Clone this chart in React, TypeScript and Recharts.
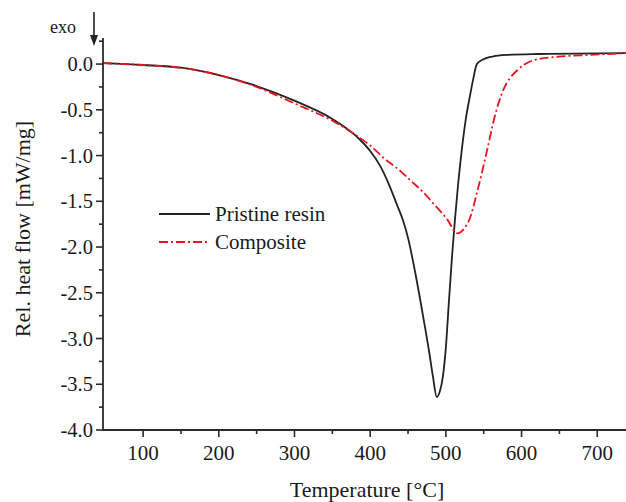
import React from "react"
import { LineChart, Line, XAxis, YAxis } from "recharts"

// temperatures [°C] and heat flow [mW/mg]
const pristineT = [47, 100, 150, 200, 250, 300, 350, 387, 400, 413, 425, 435, 443, 450, 460, 470, 478, 483, 488, 492, 496, 500, 504, 508, 512, 516, 521, 526, 532, 536, 541, 549, 560, 581, 624, 740]
const pristineV = [0.01, -0.01, -0.04, -0.12, -0.24, -0.4, -0.6, -0.83, -0.95, -1.11, -1.32, -1.53, -1.7, -1.9, -2.3, -2.76, -3.15, -3.42, -3.64, -3.58, -3.42, -3.1, -2.6, -2.12, -1.7, -1.33, -0.94, -0.62, -0.34, -0.17, 0.0, 0.05, 0.08, 0.1, 0.11, 0.12]

const compositeT = [47, 100, 150, 200, 250, 300, 350, 387, 400, 417, 440, 453, 470, 483, 502, 515, 524, 532, 541, 554, 565, 576, 585, 594, 615, 647, 690, 740]
const compositeV = [0.01, -0.01, -0.04, -0.12, -0.25, -0.43, -0.62, -0.81, -0.89, -1.02, -1.17, -1.27, -1.4, -1.52, -1.7, -1.85, -1.8, -1.68, -1.41, -0.96, -0.56, -0.28, -0.15, -0.07, 0.04, 0.08, 0.1, 0.12]

const xMajor = [100, 200, 300, 400, 500, 600, 700]
const xMinor = [150, 250, 350, 450, 550, 650]
const yMajor = [0, -0.5, -1, -1.5, -2, -2.5, -3, -3.5, -4]
const yMinor = [0.25, -0.25, -0.75, -1.25, -1.75, -2.25, -2.75, -3.25, -3.75]

const pristine = pristineT.map((t, i) => ({ t, v: pristineV[i] }))
const composite = compositeT.map((t, i) => ({ t, v: compositeV[i] }))

const FONT = "'Liberation Serif', 'DejaVu Serif', serif"
const AXIS = "#2a2a2a"
const RED = "#e8141e"

function XTick(props: any) {
  const { x, y, payload } = props
  const major = xMajor.includes(payload.value)
  return (
    <g>
      <line x1={x} x2={x} y1={y} y2={y + (major ? 7 : 4)} stroke={AXIS} strokeWidth={1.6} />
      {major && (
        <text x={x} y={y + 30} textAnchor="middle" fontFamily={FONT} fontSize={21} fill="#1a1a1a">
          {payload.value}
        </text>
      )}
    </g>
  )
}

function YTick(props: any) {
  const { x, y, payload } = props
  const major = yMajor.includes(payload.value)
  return (
    <g>
      <line x1={x - (major ? 7 : 4)} x2={x} y1={y} y2={y} stroke={AXIS} strokeWidth={1.6} />
      {major && (
        <text x={x - 10} y={y + 7} textAnchor="end" fontFamily={FONT} fontSize={20.5} fill="#1a1a1a">
          {payload.value.toFixed(1)}
        </text>
      )}
    </g>
  )
}

export default function App() {
  return (
    <div style={{ position: "absolute", left: 0, top: 0, width: 626, height: 502, background: "#fff" }}>
      <LineChart width={626} height={502} margin={{ top: 38, right: 0, bottom: 0, left: 0 }}>
        <XAxis
          type="number"
          dataKey="t"
          domain={[47, 738]}
          ticks={[...xMajor, ...xMinor].sort((a, b) => a - b)}
          interval={0}
          tick={<XTick />}
          tickLine={false}
          tickSize={0}
          tickMargin={0}
          height={72}
          axisLine={{ stroke: AXIS, strokeWidth: 1.8 }}
          allowDataOverflow
        />
        <YAxis
          type="number"
          dataKey="v"
          domain={[-4, 0.285]}
          ticks={[...yMajor, ...yMinor].sort((a, b) => a - b)}
          interval={0}
          tick={<YTick />}
          tickLine={false}
          tickSize={0}
          tickMargin={0}
          width={103}
          axisLine={{ stroke: AXIS, strokeWidth: 1.8 }}
          allowDataOverflow
        />
        <Line data={pristine} dataKey="v" type="monotone" stroke="#222" strokeWidth={1.8} dot={false} isAnimationActive={false} />
        <Line data={composite} dataKey="v" type="monotone" stroke={RED} strokeWidth={1.8} strokeDasharray="9 3 2 3" dot={false} isAnimationActive={false} />
      </LineChart>
      <svg width={626} height={502} style={{ position: "absolute", left: 0, top: 0, pointerEvents: "none" }}>
        <text x={50} y={33} fontFamily={FONT} fontSize={18} fill="#1a1a1a">exo</text>
        <line x1={94} x2={94} y1={12} y2={40} stroke="#222" strokeWidth={1.6} />
        <path d="M90,35 L94,46 L98,35 Z" fill="#222" />
        <text x={30} y={229} transform="rotate(-90 30 229)" textAnchor="middle" fontFamily={FONT} fontSize={22} fill="#1a1a1a">
          Rel. heat flow [mW/mg]
        </text>
        <text x={367} y={497} textAnchor="middle" fontFamily={FONT} fontSize={22} fill="#1a1a1a">
          Temperature [°C]
        </text>
        <line x1={159} x2={210} y1={214} y2={214} stroke="#222" strokeWidth={1.8} />
        <text x={215} y={221} fontFamily={FONT} fontSize={21} fill="#1a1a1a">Pristine resin</text>
        <line x1={159} x2={210} y1={242} y2={242} stroke={RED} strokeWidth={1.8} strokeDasharray="9 3 2 3" />
        <text x={215} y={249} fontFamily={FONT} fontSize={21} fill="#1a1a1a">Composite</text>
      </svg>
    </div>
  )
}
